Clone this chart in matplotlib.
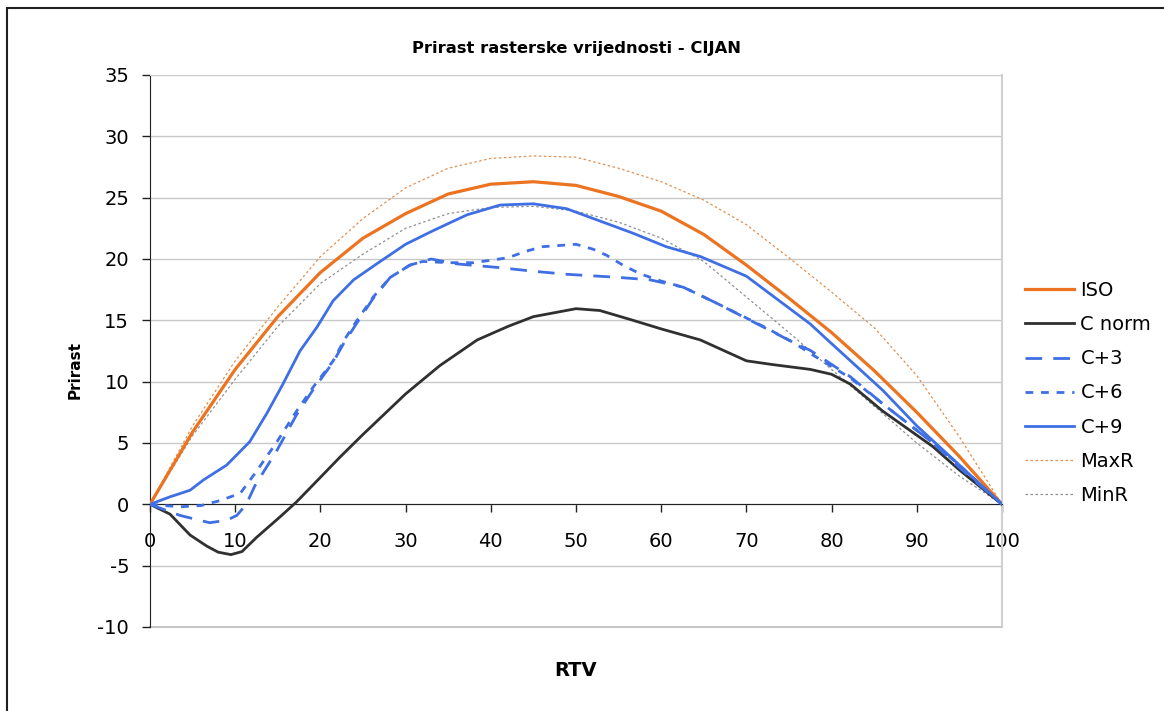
import matplotlib.pyplot as plt
from matplotlib.patches import Rectangle

plt.rcParams["axes.unicode_minus"] = False

# RTV values and tonal value increase (Prirast)
iso_x = [0, 5, 10, 15, 20, 25, 30, 35, 40, 45, 50, 55, 60, 65, 70, 75, 80, 85, 90, 95, 100]
iso_y = [0, 5.9, 11.0, 15.3, 18.9, 21.7, 23.7, 25.3, 26.1, 26.3, 26.0, 25.1, 23.9, 22.0, 19.5, 16.8, 14.0, 10.9, 7.5, 3.9, 0]

maxr_x = [0, 5, 10, 15, 20, 25, 30, 35, 40, 45, 50, 55, 60, 65, 70, 75, 80, 85, 90, 95, 100]
maxr_y = [0, 6.4, 11.7, 16.1, 20.2, 23.3, 25.8, 27.4, 28.2, 28.4, 28.3, 27.4, 26.3, 24.8, 22.8, 20.1, 17.3, 14.4, 10.5, 5.5, 0]

minr_x = [0, 5, 10, 15, 20, 25, 30, 35, 40, 45, 50, 55, 60, 65, 70, 75, 80, 85, 90, 95, 100]
minr_y = [0, 5.6, 10.2, 14.5, 18.0, 20.4, 22.5, 23.7, 24.2, 24.3, 23.9, 23.0, 21.7, 19.8, 16.9, 14.0, 11.0, 8.0, 5.0, 2.3, 0]

cnorm_x = [0, 2.35, 4.7, 6.65, 8.0, 9.5, 10.8, 12.5, 15.3, 17.2, 20, 22.3, 25, 30, 34, 38.4, 42, 45, 50,
           52.8, 56.7, 60, 64.6, 70, 73, 77.5, 80, 82.2, 86, 91.9, 95, 100]
cnorm_y = [0, -0.8, -2.5, -3.4, -3.9, -4.1, -3.85, -2.7, -1.0, 0.2, 2.2, 3.85, 5.7, 9.0, 11.3, 13.4, 14.5, 15.3, 15.95,
           15.8, 15.0, 14.3, 13.4, 11.7, 11.4, 11.0, 10.6, 9.8, 7.6, 4.7, 2.8, 0]

c3_x = [0, 3.5, 7, 9, 10.2, 11.3, 12.3, 14.9, 17.2, 19.2, 21.5, 22.8, 24.3, 26.2, 28.2, 30.5, 33, 36, 41, 45, 49,
        55, 58.7, 62.6, 66.5, 72, 75.5, 77.5, 82.2, 86, 91.9, 95, 100]
c3_y = [0, -0.9, -1.5, -1.3, -0.9, 0, 1.5, 4.4, 7.3, 9.4, 11.6, 13.2, 14.8, 16.8, 18.5, 19.5, 20.0, 19.6, 19.3, 19.0, 18.75,
        18.5, 18.3, 17.7, 16.4, 14.45, 13.2, 12.55, 10.4, 8.2, 5.0, 3.0, 0]

c6_x = [0, 3.5, 6, 8.2, 10.6, 12.3, 14.9, 17.2, 19.2, 21.5, 22.8, 24.3, 26.2, 28.2, 30.5, 32, 35, 38, 42, 44, 46, 50,
        52, 53.6, 55.5, 57.5, 60, 62.6, 66.5, 72, 75.5, 77.5, 82.2, 86, 91.9, 95, 100]
c6_y = [0, -0.2, -0.1, 0.3, 0.9, 2.5, 5.1, 7.6, 9.6, 11.7, 13.4, 15.0, 16.9, 18.5, 19.5, 19.8, 19.7, 19.7, 20.1, 20.6, 21.0, 21.2,
        20.8, 20.3, 19.5, 18.8, 18.2, 17.7, 16.4, 14.5, 13.2, 12.3, 10.3, 8.2, 5.0, 3.2, 0]

c9_x = [0, 2.3, 4.7, 6.3, 9.0, 11.7, 13.7, 15.6, 17.6, 19.6, 21.5, 23.9, 26.6, 30, 33.2, 37.2, 41.1, 45, 48.9,
        52.8, 56.7, 60.6, 64.6, 70, 77.5, 80, 86, 90, 95, 100]
c9_y = [0, 0.6, 1.15, 2.0, 3.2, 5.1, 7.4, 9.8, 12.5, 14.45, 16.6, 18.3, 19.6, 21.2, 22.3, 23.6, 24.4, 24.5, 24.1,
        23.1, 22.1, 21.0, 20.2, 18.6, 14.7, 13.1, 9.3, 6.4, 3.2, 0]

orange = "#EC7320"
blue = "#3F6FE4"
grid_col = "#C8C8C8"

fig = plt.figure(figsize=(11.64, 7.11), dpi=100)
ax = fig.add_axes([150 / 1164, 1 - 627 / 711, 852 / 1164, 552 / 711])

ax.plot(iso_x, iso_y, color=orange, lw=2.3, label="ISO", zorder=5)
ax.plot(cnorm_x, cnorm_y, color="#303030", lw=2.0, label="C norm", zorder=5)
ax.plot(c3_x, c3_y, color=blue, lw=2.0, dashes=(6, 4), label="C+3", zorder=5)
ax.plot(c6_x, c6_y, color=blue, lw=2.0, dashes=(2.8, 2.8), label="C+6", zorder=5)
ax.plot(c9_x, c9_y, color=blue, lw=2.0, label="C+9", zorder=5)
ax.plot(maxr_x, maxr_y, color="#E09050", lw=0.9, dashes=(2, 2), label="MaxR", zorder=4)
ax.plot(minr_x, minr_y, color="#909090", lw=0.9, dashes=(2, 2), label="MinR", zorder=4)

ax.set_xlim(0, 100)
ax.set_ylim(-10, 35)
ax.set_xticks(range(0, 101, 10))
ax.set_yticks(range(-10, 36, 5))
ax.grid(axis="y", color=grid_col, lw=1.0)
ax.axhline(-10, color=grid_col, lw=1.5, clip_on=False, zorder=0)
ax.set_axisbelow(True)

ax.spines["bottom"].set_position(("data", 0))
ax.spines["bottom"].set_color("#202020")
ax.spines["left"].set_color("#202020")
ax.spines["top"].set_color("#D0D0D0")
ax.spines["right"].set_color("#D0D0D0")
ax.spines["right"].set_linewidth(1.5)
ax.tick_params(axis="x", direction="out", length=6, width=1, pad=14, labelsize=14, color="#202020")
ax.tick_params(axis="y", direction="out", length=6, width=1, pad=9, labelsize=14, color="#202020")

fig.text(576 / 1164, 1 - 48 / 711, "Prirast rasterske vrijednosti - CIJAN", fontsize=11.8,
         fontweight="bold", ha="center", va="center")
fig.text(576 / 1164, 1 - 670 / 711, "RTV", fontsize=14, fontweight="bold", ha="center", va="center")
fig.text(75 / 1164, 1 - 370 / 711, "Prirast", fontsize=11, fontweight="bold", rotation=90,
         ha="center", va="center")

ax.legend(loc="upper left", bbox_to_anchor=(1025 / 1164, 1 - 281 / 711), bbox_transform=fig.transFigure,
          frameon=False, fontsize=14, handlelength=2.5, handletextpad=0.35, labelspacing=0.78,
          borderpad=0, borderaxespad=0)

# outer chart border
fig.patches.append(Rectangle((7 / 1164, -0.1), 1.2, 1 - 8 / 711 + 0.1, transform=fig.transFigure,
                             fill=False, edgecolor="#202020", lw=1.5))

fig.savefig("out.png", dpi=100)
